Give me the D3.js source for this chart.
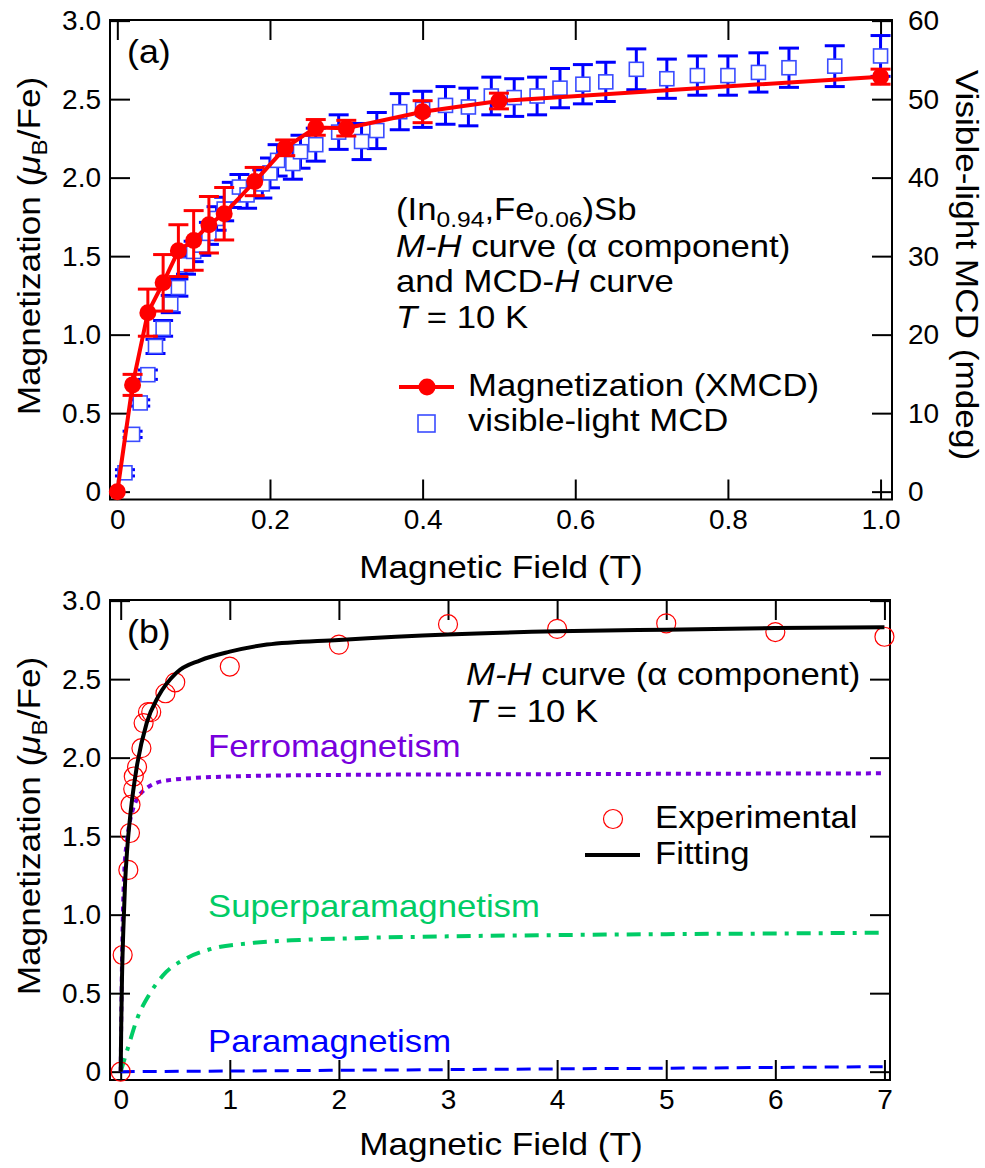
<!doctype html>
<html>
<head>
<script src="https://cdn.jsdelivr.net/npm/d3@7"></script>
<style>
  body { margin: 0; background: #fff; }
  svg text { font-family: "Liberation Sans", Arial, Helvetica, sans-serif; fill: #000; }
</style>
</head>
<body>
<svg id="fig" width="985" height="1168"></svg>
<script>
// ---------- panel (a) ----------
// magnetization from XMCD (mu_B/Fe)
var xmcdField = [0, 0.02, 0.04, 0.06, 0.08, 0.10, 0.12, 0.14, 0.18, 0.22, 0.26, 0.30, 0.40, 0.50, 1.00];
var xmcdMag   = [0, 0.68, 1.14, 1.33, 1.535, 1.60, 1.70, 1.77, 1.975, 2.19, 2.32, 2.315, 2.42, 2.488, 2.643];
var xmcdErr   = [0, 0.067, 0.15, 0.18, 0.165, 0.19, 0.18, 0.167, 0.09, 0.05, 0.05, 0.05, 0.07, 0.05, 0.048];

// visible-light MCD (mdeg)
var mcdField = [0.01, 0.02, 0.03, 0.04, 0.05, 0.06, 0.07, 0.08, 0.09, 0.10, 0.11, 0.12, 0.13, 0.14,
                0.15, 0.16, 0.17, 0.19, 0.20, 0.21, 0.23, 0.24, 0.26, 0.29, 0.32, 0.34, 0.37, 0.40,
                0.43, 0.46, 0.49, 0.52, 0.55, 0.58, 0.61, 0.64, 0.68, 0.72, 0.76, 0.80, 0.84, 0.88,
                0.94, 1.00];
var mcdVal   = [2.4, 7.3, 11.3, 14.9, 18.5, 20.8, 23.9, 26.0, 28.9, 30.6, 31.4, 32.9, 34.8, 36.0,
                37.8, 38.8, 37.8, 39.2, 40.6, 42.2, 41.8, 43.3, 44.2, 45.8, 44.6, 46.0, 48.4, 48.7,
                49.2, 49.0, 50.4, 50.2, 50.4, 51.4, 51.9, 52.2, 53.8, 52.6, 53.0, 53.0, 53.4, 54.0,
                54.2, 55.5];
var mcdErr   = [0.4, 0.4, 0.4, 0.6, 0.9, 1.0, 1.1, 1.1, 1.2, 1.3, 1.3, 1.4, 1.5, 1.5,
                1.6, 1.6, 1.7, 1.8, 1.9, 2.0, 2.0, 2.1, 2.1, 2.2, 2.3, 2.3, 2.3, 2.3,
                2.4, 2.4, 2.4, 2.4, 2.4, 2.5, 2.5, 2.5, 2.6, 2.5, 2.5, 2.5, 2.5, 2.5,
                2.6, 2.6];

var xTicksA = [0, 0.2, 0.4, 0.6, 0.8, 1.0];
var yTicks  = [0, 0.5, 1.0, 1.5, 2.0, 2.5, 3.0];
var y2TicksA = [0, 10, 20, 30, 40, 50, 60];

// ---------- panel (b) ----------
var expField = [0, 0.018, 0.07, 0.085, 0.09, 0.115, 0.12, 0.15, 0.19, 0.21, 0.25, 0.28, 0.41, 0.50,
                1.0, 2.0, 3.0, 4.0, 5.0, 6.0, 7.0];
var expMag   = [0, 0.743, 1.285, 1.52, 1.70, 1.80, 1.88, 1.94, 2.06, 2.22, 2.29, 2.29, 2.41, 2.48,
                2.58, 2.72, 2.85, 2.82, 2.855, 2.80, 2.77];

var fitField = [0, 0.005, 0.012, 0.024, 0.04, 0.06, 0.09, 0.147, 0.238, 0.345, 0.51, 0.73, 1.0, 1.34,
                2.0, 3.0, 4.0, 5.0, 6.0, 7.0];
var fitMag   = [0, 0.3, 0.6, 0.9, 1.2, 1.42, 1.646, 1.94, 2.22, 2.39, 2.54, 2.62, 2.675, 2.72,
                2.75, 2.785, 2.805, 2.815, 2.825, 2.83];

var ferroField = [0, 0.01, 0.02, 0.035, 0.055, 0.1, 0.21, 0.42, 1.0, 2.0, 4.0, 7.0];
var ferroMag   = [0, 0.6, 1.0, 1.3, 1.455, 1.64, 1.79, 1.855, 1.88, 1.89, 1.895, 1.90];

var superField = [0, 0.07, 0.147, 0.27, 0.42, 0.57, 0.82, 1.18, 1.64, 2.13, 3.0, 4.0, 5.0, 6.0, 7.0];
var superMag   = [0, 0.16, 0.33, 0.50, 0.637, 0.71, 0.78, 0.818, 0.839, 0.85, 0.862, 0.87, 0.876, 0.88, 0.885];

var paraField = [0, 1, 2, 3, 4, 5, 6, 7];
var paraMag   = [0, 0.004, 0.009, 0.013, 0.018, 0.022, 0.027, 0.032];

var xTicksB = [0, 1, 2, 3, 4, 5, 6, 7];

var svg = d3.select("#fig");
svg.append("rect").attr("width", 985).attr("height", 1168).attr("fill", "#fff");

function fmtTick(d) { return d === 0 ? "0" : d3.format(".1f")(d); }

// the reference lettering is a little wider than Liberation Sans, so stretch it sideways
function txt(x, y, size, sx, rot) {
  var tr = "translate(" + x + "," + y + ")" + (rot ? " rotate(" + rot + ")" : "") + " scale(" + sx + ",1)";
  return svg.append("text").attr("transform", tr).attr("font-size", size);
}

// draws a closed frame with inward ticks on all four sides
function frame(x, y, opts) {
  var L = x.range()[0], R = x.range()[1], B = y.range()[0], T = y.range()[1];
  var g = svg.append("g");

  var bottom = g.append("g").attr("transform", "translate(0," + B + ")")
    .call(d3.axisBottom(x).tickValues(opts.xTicks).tickSize(-20).tickSizeOuter(0)
      .tickPadding(9).tickFormat(opts.xFormat));
  var top = g.append("g").attr("transform", "translate(0," + T + ")")
    .call(d3.axisTop(x).tickValues(opts.xTicks).tickSize(-20).tickSizeOuter(0).tickFormat(""));
  var left = g.append("g").attr("transform", "translate(" + L + ",0)")
    .call(d3.axisLeft(y).tickValues(yTicks).tickSize(-20).tickSizeOuter(0)
      .tickPadding(9).tickFormat(fmtTick));
  var right;
  if (opts.y2) {
    right = g.append("g").attr("transform", "translate(" + R + ",0)")
      .call(d3.axisRight(opts.y2).tickValues(opts.y2Ticks).tickSize(-20).tickSizeOuter(0)
        .tickPadding(16));
  } else {
    right = g.append("g").attr("transform", "translate(" + R + ",0)")
      .call(d3.axisRight(y).tickValues(yTicks).tickSize(-20).tickSizeOuter(0).tickFormat(""));
  }
  [bottom, top, left, right].forEach(function(a) {
    a.select(".domain").remove();
    a.attr("font-size", 28).attr("font-family", null);
    a.selectAll("line").attr("stroke", "#000").attr("stroke-width", 2);
  });
  bottom.selectAll("text").attr("dy", "0.72em");

  g.append("rect")
    .attr("x", L).attr("y", T).attr("width", R - L).attr("height", B - T)
    .attr("fill", "none").attr("stroke", "#000").attr("stroke-width", 2);
  return g;
}

function errorBars(g, xs, ys, es, x, y, color, half) {
  var grp = g.append("g").attr("stroke", color).attr("stroke-width", 3);
  xs.forEach(function(v, i) {
    if (!es[i]) return;
    var cx = x(v), y1 = y(ys[i] - es[i]), y2 = y(ys[i] + es[i]);
    grp.append("line").attr("x1", cx).attr("x2", cx).attr("y1", y1).attr("y2", y2);
    grp.append("line").attr("x1", cx - half).attr("x2", cx + half).attr("y1", y1).attr("y2", y1);
    grp.append("line").attr("x1", cx - half).attr("x2", cx + half).attr("y1", y2).attr("y2", y2);
  });
}

function yTitle(x, cy) {
  var t = txt(x, cy, 32, 1.1, -90).attr("text-anchor", "middle");
  t.append("tspan").text("Magnetization (");
  t.append("tspan").attr("font-style", "italic").text("\u03bc");
  t.append("tspan").attr("font-size", 22).attr("dy", 7).text("B");
  t.append("tspan").attr("dy", -7).text("/Fe)");
}

// ================= panel (a) =================
var xA  = d3.scaleLinear().domain([-0.0096, 1.015]).range([110, 892]);
var yA  = d3.scaleLinear().domain([-0.05, 3.004]).range([499.5, 20]);
var yA2 = d3.scaleLinear().domain([-1.0, 60.08]).range([499.5, 20]);

frame(xA, yA, { xTicks: xTicksA, xFormat: fmtTick, y2: yA2, y2Ticks: y2TicksA });

var plotA = svg.append("g");
errorBars(plotA, mcdField, mcdVal, mcdErr, xA, yA2, "#0000ff", 10);
plotA.selectAll("rect.mcd").data(mcdField).enter().append("rect")
  .attr("class", "mcd")
  .attr("x", function(d) { return xA(d) - 7; })
  .attr("y", function(d, i) { return yA2(mcdVal[i]) - 7; })
  .attr("width", 14).attr("height", 14)
  .attr("fill", "#fff").attr("stroke", "#3a4cff").attr("stroke-width", 1.6);

var lineA = d3.line()
  .x(function(d) { return xA(d); })
  .y(function(d, i) { return yA(xmcdMag[i]); });
plotA.append("path").datum(xmcdField).attr("d", lineA)
  .attr("fill", "none").attr("stroke", "#ff0000").attr("stroke-width", 4);
errorBars(plotA, xmcdField, xmcdMag, xmcdErr, xA, yA, "#ff0000", 10);
plotA.selectAll("circle.xmcd").data(xmcdField).enter().append("circle")
  .attr("class", "xmcd")
  .attr("cx", function(d) { return xA(d); })
  .attr("cy", function(d, i) { return yA(xmcdMag[i]); })
  .attr("r", 8.5).attr("fill", "#ff0000");

txt(127, 63, 34, 1.05).text("(a)");

// annotation
var t1 = txt(396, 220, 31, 1.12);
t1.append("tspan").text("(In");
t1.append("tspan").attr("font-size", 22).attr("dy", 7).text("0.94");
t1.append("tspan").attr("dy", -7).text(",Fe");
t1.append("tspan").attr("font-size", 22).attr("dy", 7).text("0.06");
t1.append("tspan").attr("dy", -7).text(")Sb");
var t2 = txt(396, 257, 31, 1.12);
t2.append("tspan").attr("font-style", "italic").text("M-H");
t2.append("tspan").text(" curve (\u03b1 component)");
var t3 = txt(396, 292, 31, 1.12);
t3.append("tspan").text("and MCD-");
t3.append("tspan").attr("font-style", "italic").text("H");
t3.append("tspan").text(" curve");
var t4 = txt(396, 328, 31, 1.12);
t4.append("tspan").attr("font-style", "italic").text("T");
t4.append("tspan").text(" = 10 K");

// legend (a)
svg.append("line").attr("x1", 399).attr("x2", 454).attr("y1", 387).attr("y2", 387)
  .attr("stroke", "#ff0000").attr("stroke-width", 4);
svg.append("circle").attr("cx", 427).attr("cy", 387).attr("r", 8.5).attr("fill", "#ff0000");
txt(468, 396, 31, 1.12).text("Magnetization (XMCD)");
svg.append("rect").attr("x", 418).attr("y", 415).attr("width", 17).attr("height", 17)
  .attr("fill", "#fff").attr("stroke", "#3a4cff").attr("stroke-width", 1.6);
txt(468, 431, 31, 1.12).text("visible-light MCD");

yTitle(40, 246);
txt(501, 578, 32, 1.1).attr("text-anchor", "middle").text("Magnetic Field (T)");
txt(956, 265, 32, 1.1, 90).attr("text-anchor", "middle").text("Visible-light MCD (mdeg)");

// ================= panel (b) =================
var xB = d3.scaleLinear().domain([-0.098, 7.051]).range([110, 890]);
var yB = d3.scaleLinear().domain([-0.053, 3.004]).range([1080, 600]);

frame(xB, yB, { xTicks: xTicksB, xFormat: d3.format("d") });

var plotB = svg.append("g");
function curve(xs, ys, color, width, dash) {
  var ln = d3.line().curve(d3.curveMonotoneX)
    .x(function(d) { return xB(d); })
    .y(function(d, i) { return yB(ys[i]); });
  plotB.append("path").datum(xs).attr("d", ln)
    .attr("fill", "none").attr("stroke", color).attr("stroke-width", width)
    .attr("stroke-dasharray", dash);
}
curve(paraField, paraMag, "#0000ff", 3, "14,8");
curve(superField, superMag, "#00cc66", 4, "14,8,4,8");
curve(ferroField, ferroMag, "#7700dd", 4, "5,5");

plotB.selectAll("circle.exp").data(expField).enter().append("circle")
  .attr("class", "exp")
  .attr("cx", function(d) { return xB(d); })
  .attr("cy", function(d, i) { return yB(expMag[i]); })
  .attr("r", 9.5).attr("fill", "none").attr("stroke", "#ff0000").attr("stroke-width", 1.2);

curve(fitField, fitMag, "#000", 4, null);

txt(127, 643, 34, 1.05).text("(b)");

var b1 = txt(466, 685, 31, 1.12);
b1.append("tspan").attr("font-style", "italic").text("M-H");
b1.append("tspan").text(" curve (\u03b1 component)");
var b2 = txt(466, 722, 31, 1.12);
b2.append("tspan").attr("font-style", "italic").text("T");
b2.append("tspan").text(" = 10 K");

txt(208, 757, 31, 1.12).style("fill", "#7700dd").text("Ferromagnetism");
txt(208, 917, 31, 1.12).style("fill", "#00cc66").text("Superparamagnetism");
txt(208, 1052, 31, 1.12).style("fill", "#0000ff").text("Paramagnetism");

// legend (b)
svg.append("circle").attr("cx", 613).attr("cy", 819).attr("r", 9.5)
  .attr("fill", "none").attr("stroke", "#ff0000").attr("stroke-width", 1.2);
txt(655, 828, 31, 1.12).text("Experimental");
svg.append("line").attr("x1", 585).attr("x2", 640).attr("y1", 855).attr("y2", 855)
  .attr("stroke", "#000").attr("stroke-width", 4);
txt(655, 864, 31, 1.12).text("Fitting");

yTitle(40, 826);
txt(501, 1155, 32, 1.1).attr("text-anchor", "middle").text("Magnetic Field (T)");
</script>
</body>
</html>
